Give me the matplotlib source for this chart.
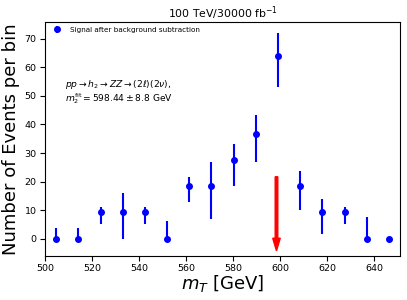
import matplotlib
matplotlib.use("Agg")
import matplotlib.pyplot as plt
import numpy as np

# Bin centres (GeV)
mT = [504.7, 514.1, 523.6, 533.0, 542.4, 551.9, 561.3, 570.8,
      580.2, 589.6, 599.1, 608.5, 617.9, 627.4, 636.8, 646.3]
# Events per bin after background subtraction
events = [0.0, 0.0, 9.2, 9.2, 9.2, 0.0, 18.3, 18.3,
          27.4, 36.6, 64.0, 18.3, 9.2, 9.2, 0.0, 0.0]
err_low = [0.0, 0.0, 4.1, 9.2, 4.1, 0.0, 5.3, 11.4,
           8.8, 9.7, 10.9, 8.2, 7.6, 4.1, 0.0, 0.0]
err_high = [3.9, 3.9, 1.9, 6.7, 1.9, 6.2, 3.2, 8.6,
            5.9, 6.6, 8.1, 5.5, 4.6, 1.9, 7.7, 0.0]

m_fit = 598.44
m_fit_err = 8.8
arrow_top = 21.7
arrow_bottom = -4.2

fig = plt.figure(figsize=(4.07, 3.00), dpi=100)
ax = fig.add_subplot(111)
fig.subplots_adjust(left=0.1106, right=0.983, top=0.928, bottom=0.147)

ax.errorbar(mT, events, yerr=[err_low, err_high], fmt='o', color='blue',
            markersize=4, elinewidth=1.5, capsize=0, alpha=1.0,
            label='Signal after background subtraction')

ax.arrow(m_fit, arrow_top, 0, arrow_bottom - arrow_top, width=1.1,
         head_width=3.2, head_length=4.4, length_includes_head=True,
         color='red', zorder=3)

ax.text(508.3, 54.0,
        r'$pp \rightarrow h_2 \rightarrow ZZ \rightarrow (2\ell)(2\nu)$,',
        fontsize=6.6, va='center', ha='left')
ax.text(508.3, 49.2,
        r'$m_2^{\rm fit} = %.2f \pm %.1f$ GeV' % (m_fit, m_fit_err),
        fontsize=6.6, va='center', ha='left')

ax.set_xlim(500, 651)
ax.set_ylim(-6, 76)
ax.set_xticks([500, 520, 540, 560, 580, 600, 620, 640])
ax.set_yticks([0, 10, 20, 30, 40, 50, 60, 70])
ax.tick_params(labelsize=6.8, pad=2.5)

ax.set_xlabel(r'$m_T$ [GeV]', fontsize=13, labelpad=0)
ax.set_ylabel('Number of Events per bin', fontsize=13, labelpad=3)
ax.set_title(r'100 TeV/30000 fb$^{-1}$', fontsize=7.8, pad=3)

ax.legend(loc='upper left', fontsize=5.2, frameon=False,
          handletextpad=0.8, borderaxespad=0.3)

fig.savefig('out.png', dpi=100)
